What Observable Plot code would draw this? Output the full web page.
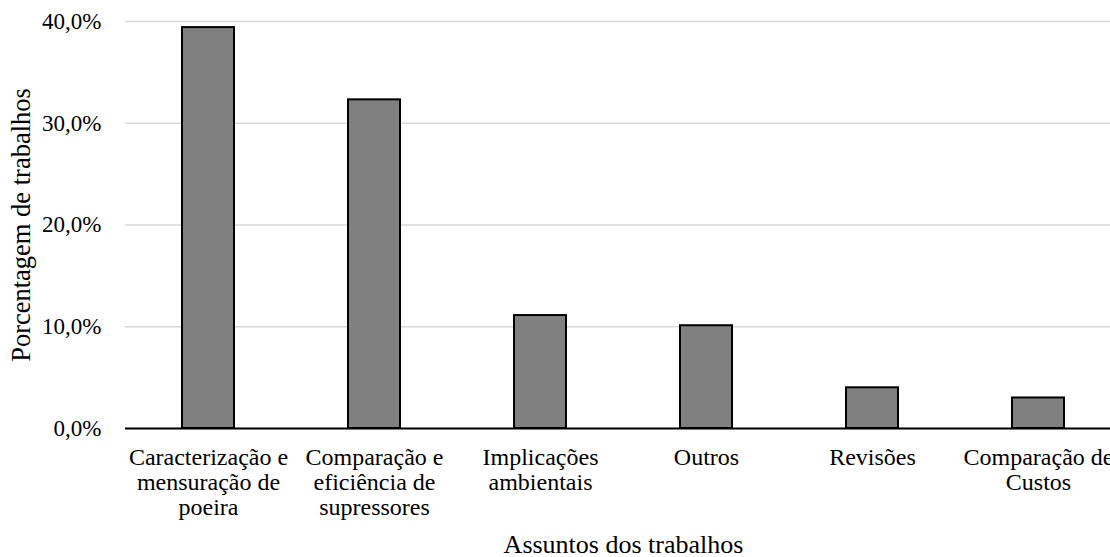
<!DOCTYPE html>
<html>
<head>
<meta charset="utf-8">
<script src="https://cdn.jsdelivr.net/npm/d3@7"></script>
<script src="https://cdn.jsdelivr.net/npm/@observablehq/plot@0.6"></script>
<style>
  html, body { margin: 0; padding: 0; background: #fff; overflow: hidden; }
  #chart { width: 1110px; height: 557px; overflow: hidden; }
  #chart svg { display: block; max-width: none !important; }
  #chart svg text, #chart svg tspan {
    font-family: "Liberation Serif", "Times New Roman", serif !important;
    fill: #000;
  }
</style>
</head>
<body>
<div id="chart"></div>
<script>
// Subjects of the surveyed papers and their share of the total
const categories = [
  "Caracterização e\nmensuração de\npoeira",
  "Comparação e\neficiência de\nsupressores",
  "Implicações\nambientais",
  "Outros",
  "Revisões",
  "Comparação de\nCustos"
];
const percentages = [39.4, 32.3, 11.1, 10.1, 4.0, 3.0];
const yTicks = [0, 10, 20, 30, 40];

const data = categories.map((c, i) => ({ assunto: c, pct: percentages[i] }));
const fmt = d => d.toFixed(1).replace(".", ",") + "%";
const serif = "'Liberation Serif', 'Times New Roman', serif";

const chart = Plot.plot({
  width: 1121,
  height: 557,
  marginTop: 21,
  marginBottom: 129,
  marginLeft: 125,
  marginRight: 0,
  style: { fontFamily: serif, fontSize: "26px", color: "#000", overflow: "visible" },
  x: { domain: categories, paddingInner: 0.687, paddingOuter: 0.3435, label: null },
  y: { domain: [0, 40], label: null },
  marks: [
    Plot.gridY(yTicks, { stroke: "#d9d9d9", strokeOpacity: 1, strokeWidth: 1.5 }),
    Plot.barY(data, { x: "assunto", y: "pct", fill: "#808080", stroke: "#000", strokeWidth: 2 }),
    Plot.ruleY([0], { stroke: "#000", strokeWidth: 2 }),
    // tick labels
    Plot.axisY({ ticks: yTicks, tickFormat: fmt, tickSize: 0, tickPadding: 24, fontSize: 23, label: null }),
    Plot.axisX({ tickSize: 0, tickPadding: 19, fontSize: 24, lineHeight: 1.04, label: null }),
    // axis titles
    Plot.axisY({
      ticks: [], tickSize: 0, fontSize: 26.5, label: "Porcentagem de trabalhos",
      labelAnchor: "center", labelArrow: "none", labelOffset: 114
    }),
    Plot.axisX({
      ticks: [], tickSize: 0, fontSize: 26, label: "Assuntos dos trabalhos",
      labelAnchor: "center", labelArrow: "none", labelOffset: 124
    })
  ]
});
chart.setAttribute("font-family", serif);
document.getElementById("chart").appendChild(chart);
</script>
</body>
</html>
